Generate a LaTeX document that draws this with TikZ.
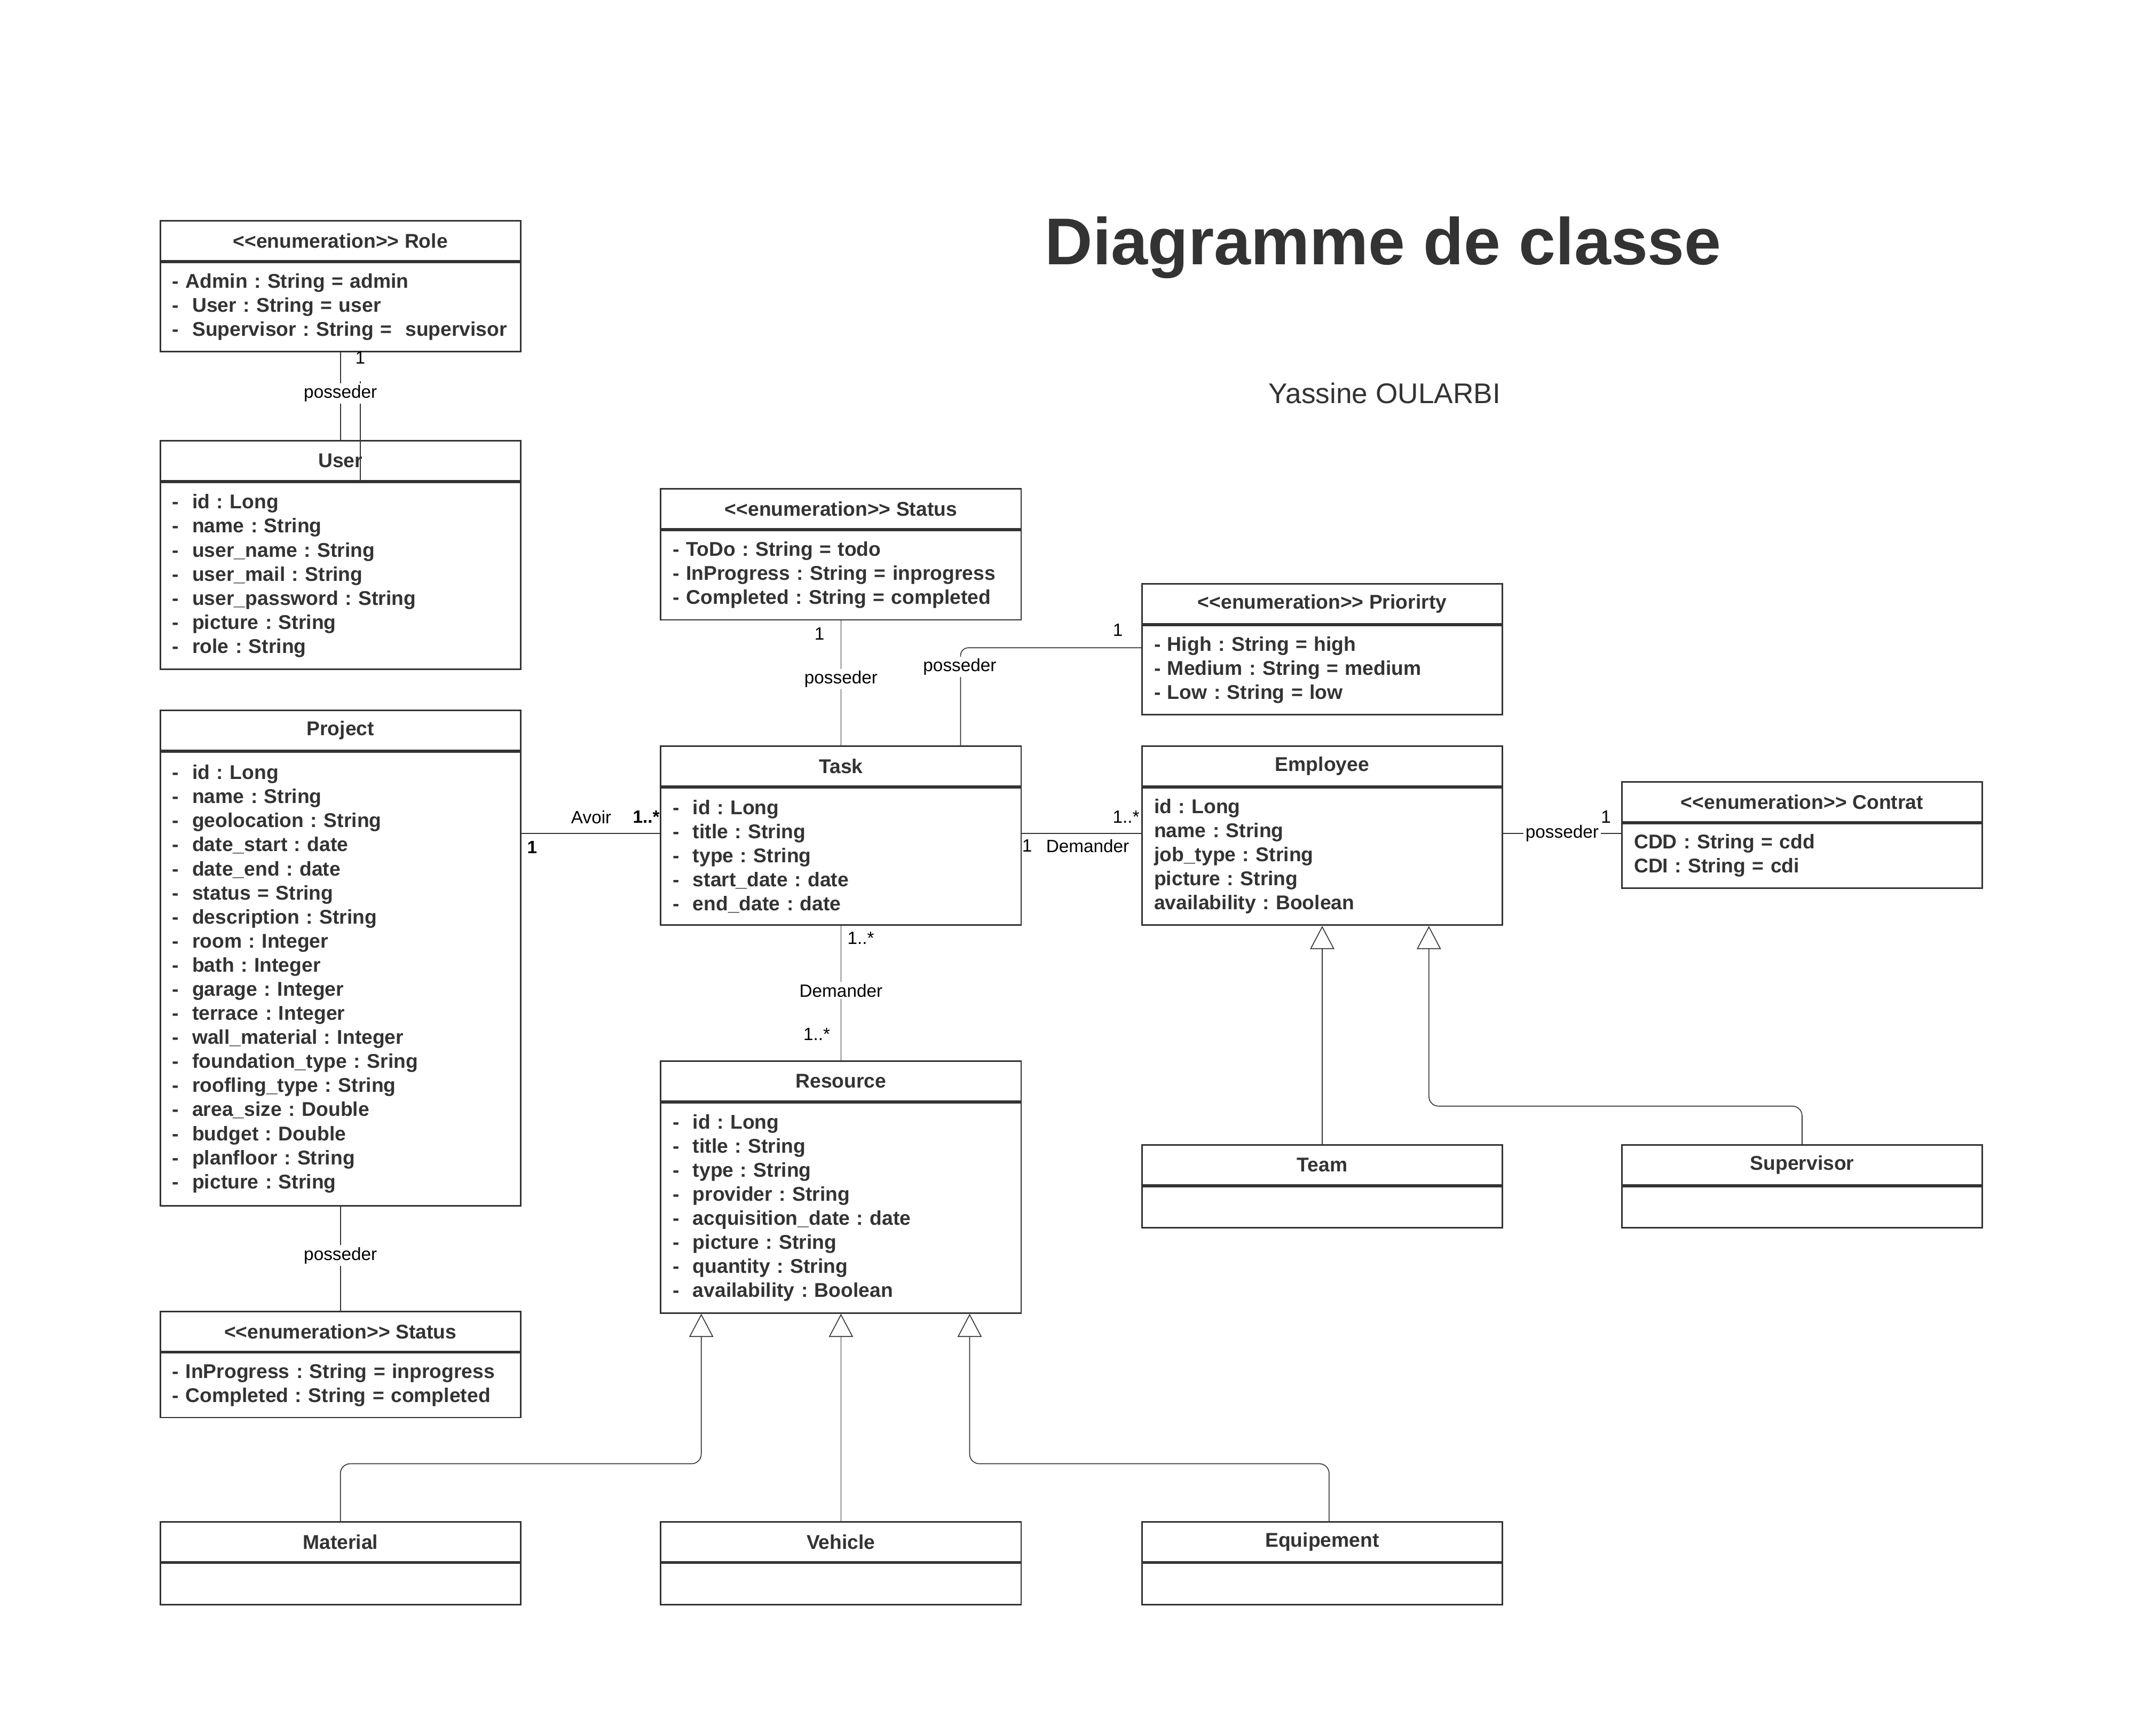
\documentclass[tikz,border=0pt]{standalone}
\usepackage{fontspec}
\setmainfont{Liberation Sans}[Ligatures=TeXOff]
\usetikzlibrary{positioning,calc,arrows.meta}
\definecolor{ink}{HTML}{333333}
\newcommand{\boxfont}{\bfseries\fontsize{10.3}{12.45}\selectfont}
\newcommand{\lblfont}{\fontsize{9.2}{11}\selectfont}
\newcommand{\vis}{-\ \ }
\frenchspacing
\tikzset{
  classhead/.style={draw=ink, line width=0.8pt, anchor=north west, minimum width=6.55cm,
    minimum height=0.725cm, inner sep=0pt, text=ink, font=\boxfont},
  classbody/.style={draw=ink, line width=0.8pt, below=0pt of #1, text width=6.11cm,
    inner xsep=0.22cm, inner ysep=0pt, align=left, text=ink, font=\boxfont},
  assoc/.style={draw=ink, line width=0.45pt},
  gen/.style={draw=ink, line width=0.45pt, rounded corners=5pt,
    -{Triangle[open, length=0.42cm, width=0.44cm]}},
  lbl/.style={inner sep=1pt, font=\lblfont},
  onlbl/.style={lbl, fill=white},
}
\begin{document}
\begin{tikzpicture}[x=0.025cm, y=-0.025cm]
\useasboundingbox (0,0) rectangle (1568,1259);

% title
\node[text=ink, font=\bfseries\fontsize{34.2}{40}\selectfont] (title) at (1006,180) {Diagramme de classe};
\node[text=ink, font=\fontsize{14.7}{17}\selectfont] (author) at (1007,286) {Yassine OULARBI};

% classes
\node[classhead] (roleh) at (116,160) {<<enumeration>> Role};
\node[classbody=roleh, minimum height=1.625cm] (roleb) {- Admin : String = admin\\\vis User : String = user\\\mbox{\vis Supervisor : String =\ \ supervisor}};

\node[classhead] (userh) at (116,320) {User};
\node[classbody=userh, minimum height=3.4cm] (userb) {\vis id : Long\\\vis name : String\\\vis user\_name : String\\\vis user\_mail : String\\\vis user\_password : String\\\vis picture : String\\\vis role : String};

\node[classhead] (projh) at (116,516) {Project};
\node[classbody=projh, minimum height=8.25cm] (projb) {\vis id : Long\\\vis name : String\\\vis geolocation : String\\\vis date\_start : date\\\vis date\_end : date\\\vis status = String\\\vis description : String\\\vis room : Integer\\\vis bath : Integer\\\vis garage : Integer\\\vis terrace : Integer\\\vis wall\_material : Integer\\\vis foundation\_type : Sring\\\vis roofling\_type : String\\\vis area\_size : Double\\\vis budget : Double\\\vis planfloor : String\\\vis picture : String};

\node[classhead] (pstath) at (116,953) {<<enumeration>> Status};
\node[classbody=pstath, minimum height=1.175cm] (pstatb) {- InProgress : String = inprogress\\- Completed : String = completed};

\node[classhead] (stath) at (480,355) {<<enumeration>> Status};
\node[classbody=stath, minimum height=1.625cm] (statb) {- ToDo : String = todo\\- InProgress : String = inprogress\\- Completed : String = completed};

\node[classhead] (prioh) at (830,424) {<<enumeration>> Priorirty};
\node[classbody=prioh, minimum height=1.625cm] (priob) {- High : String = high\\- Medium : String = medium\\- Low : String = low};

\node[classhead] (taskh) at (480,542) {Task};
\node[classbody=taskh, minimum height=2.5cm] (taskb) {\vis id : Long\\\vis title : String\\\vis type : String\\\vis start\_date : date\\\vis end\_date : date};

\node[classhead] (emph) at (830,542) {Employee};
\node[classbody=emph, minimum height=2.5cm] (empb) {id : Long\\name : String\\job\_type : String\\picture : String\\availability : Boolean};

\node[classhead] (conh) at (1179,568) {<<enumeration>> Contrat};
\node[classbody=conh, minimum height=1.175cm] (conb) {CDD : String = cdd\\CDI : String = cdi};

\node[classhead] (resh) at (480,771) {Resource};
\node[classbody=resh, minimum height=3.825cm] (resb) {\vis id : Long\\\vis title : String\\\vis type : String\\\vis provider : String\\\vis acquisition\_date : date\\\vis picture : String\\\vis quantity : String\\\vis availability : Boolean};

\node[classhead] (teamh) at (830,832) {Team};
\node[classbody=teamh, minimum height=0.75cm] (teamb) {};
\node[classhead] (suph) at (1179,832) {Supervisor};
\node[classbody=suph, minimum height=0.75cm] (supb) {};
\node[classhead] (math) at (116,1106) {Material};
\node[classbody=math, minimum height=0.75cm] (matb) {};
\node[classhead] (vehh) at (480,1106) {Vehicle};
\node[classbody=vehh, minimum height=0.75cm] (vehb) {};
\node[classhead] (equh) at (830,1106) {Equipement};
\node[classbody=equh, minimum height=0.75cm] (equb) {};

% associations
\coordinate (stray) at (262,277);
\coordinate (row) at (0,606);
\coordinate (priorow) at (0,471);
\draw[assoc] (stray) -- (stray |- userh.south);
\draw[assoc] (roleb.south) -- node[onlbl, pos=0.47] (l1) {posseder} (userh.north);
\node[lbl] (m1) at (262,260) {1};

\draw[assoc] (projb.east |- row) -- (taskb.west |- row);
\node[lbl] (l2) at (430,594) {Avoir};
\node[lbl, font=\lblfont\bfseries] (m2) at (470,594) {1..*};
\node[lbl, font=\lblfont\bfseries] (m3) at (387,616) {1};

\draw[assoc] (statb.south) -- node[onlbl, pos=0.47] (l3) {posseder} (taskh.north);
\node[lbl] (m4) at (596,461) {1};

\draw[assoc, rounded corners=4pt] (priob.west |- priorow) -| ($(taskh.north)+(87,0)$);
\node[onlbl] (l4) at (698,485) {posseder};
\node[lbl] (m5) at (813,458) {1};

\draw[assoc] (taskb.east |- row) -- (empb.west |- row);
\node[lbl] (m6) at (747,615) {1};
\node[lbl] (l5) at (791,615) {Demander};
\node[lbl] (m7) at (819,594) {1..*};

\draw[assoc] (empb.east |- row) -- node[onlbl] (l6) {posseder} (conb.west |- row);
\node[lbl] (m8) at (1168,594) {1};

\draw[assoc] (taskb.south) -- node[onlbl, pos=0.48] (l7) {Demander} (resh.north);
\node[lbl] (m9) at (626,682) {1..*};
\node[lbl] (m10) at (594,752) {1..*};

\draw[assoc] (projb.south) -- node[onlbl, pos=0.47] (l8) {posseder} (pstath.north);

% generalisations
\draw[gen] (teamh.north) -- (empb.south);
\draw[gen] (suph.north) |- ($(empb.south east)+(-54,131)$) -- ($(empb.south east)+(-54,0)$);
\draw[gen] (math.north) |- ($(resb.south west)+(30,109)$) -- ($(resb.south west)+(30,0)$);
\draw[gen] (vehh.north) -- (resb.south);
\draw[gen] ($(equh.north)+(5,0)$) |- ($(resb.south east)+(-38,109)$) -- ($(resb.south east)+(-38,0)$);
\end{tikzpicture}
\end{document}
